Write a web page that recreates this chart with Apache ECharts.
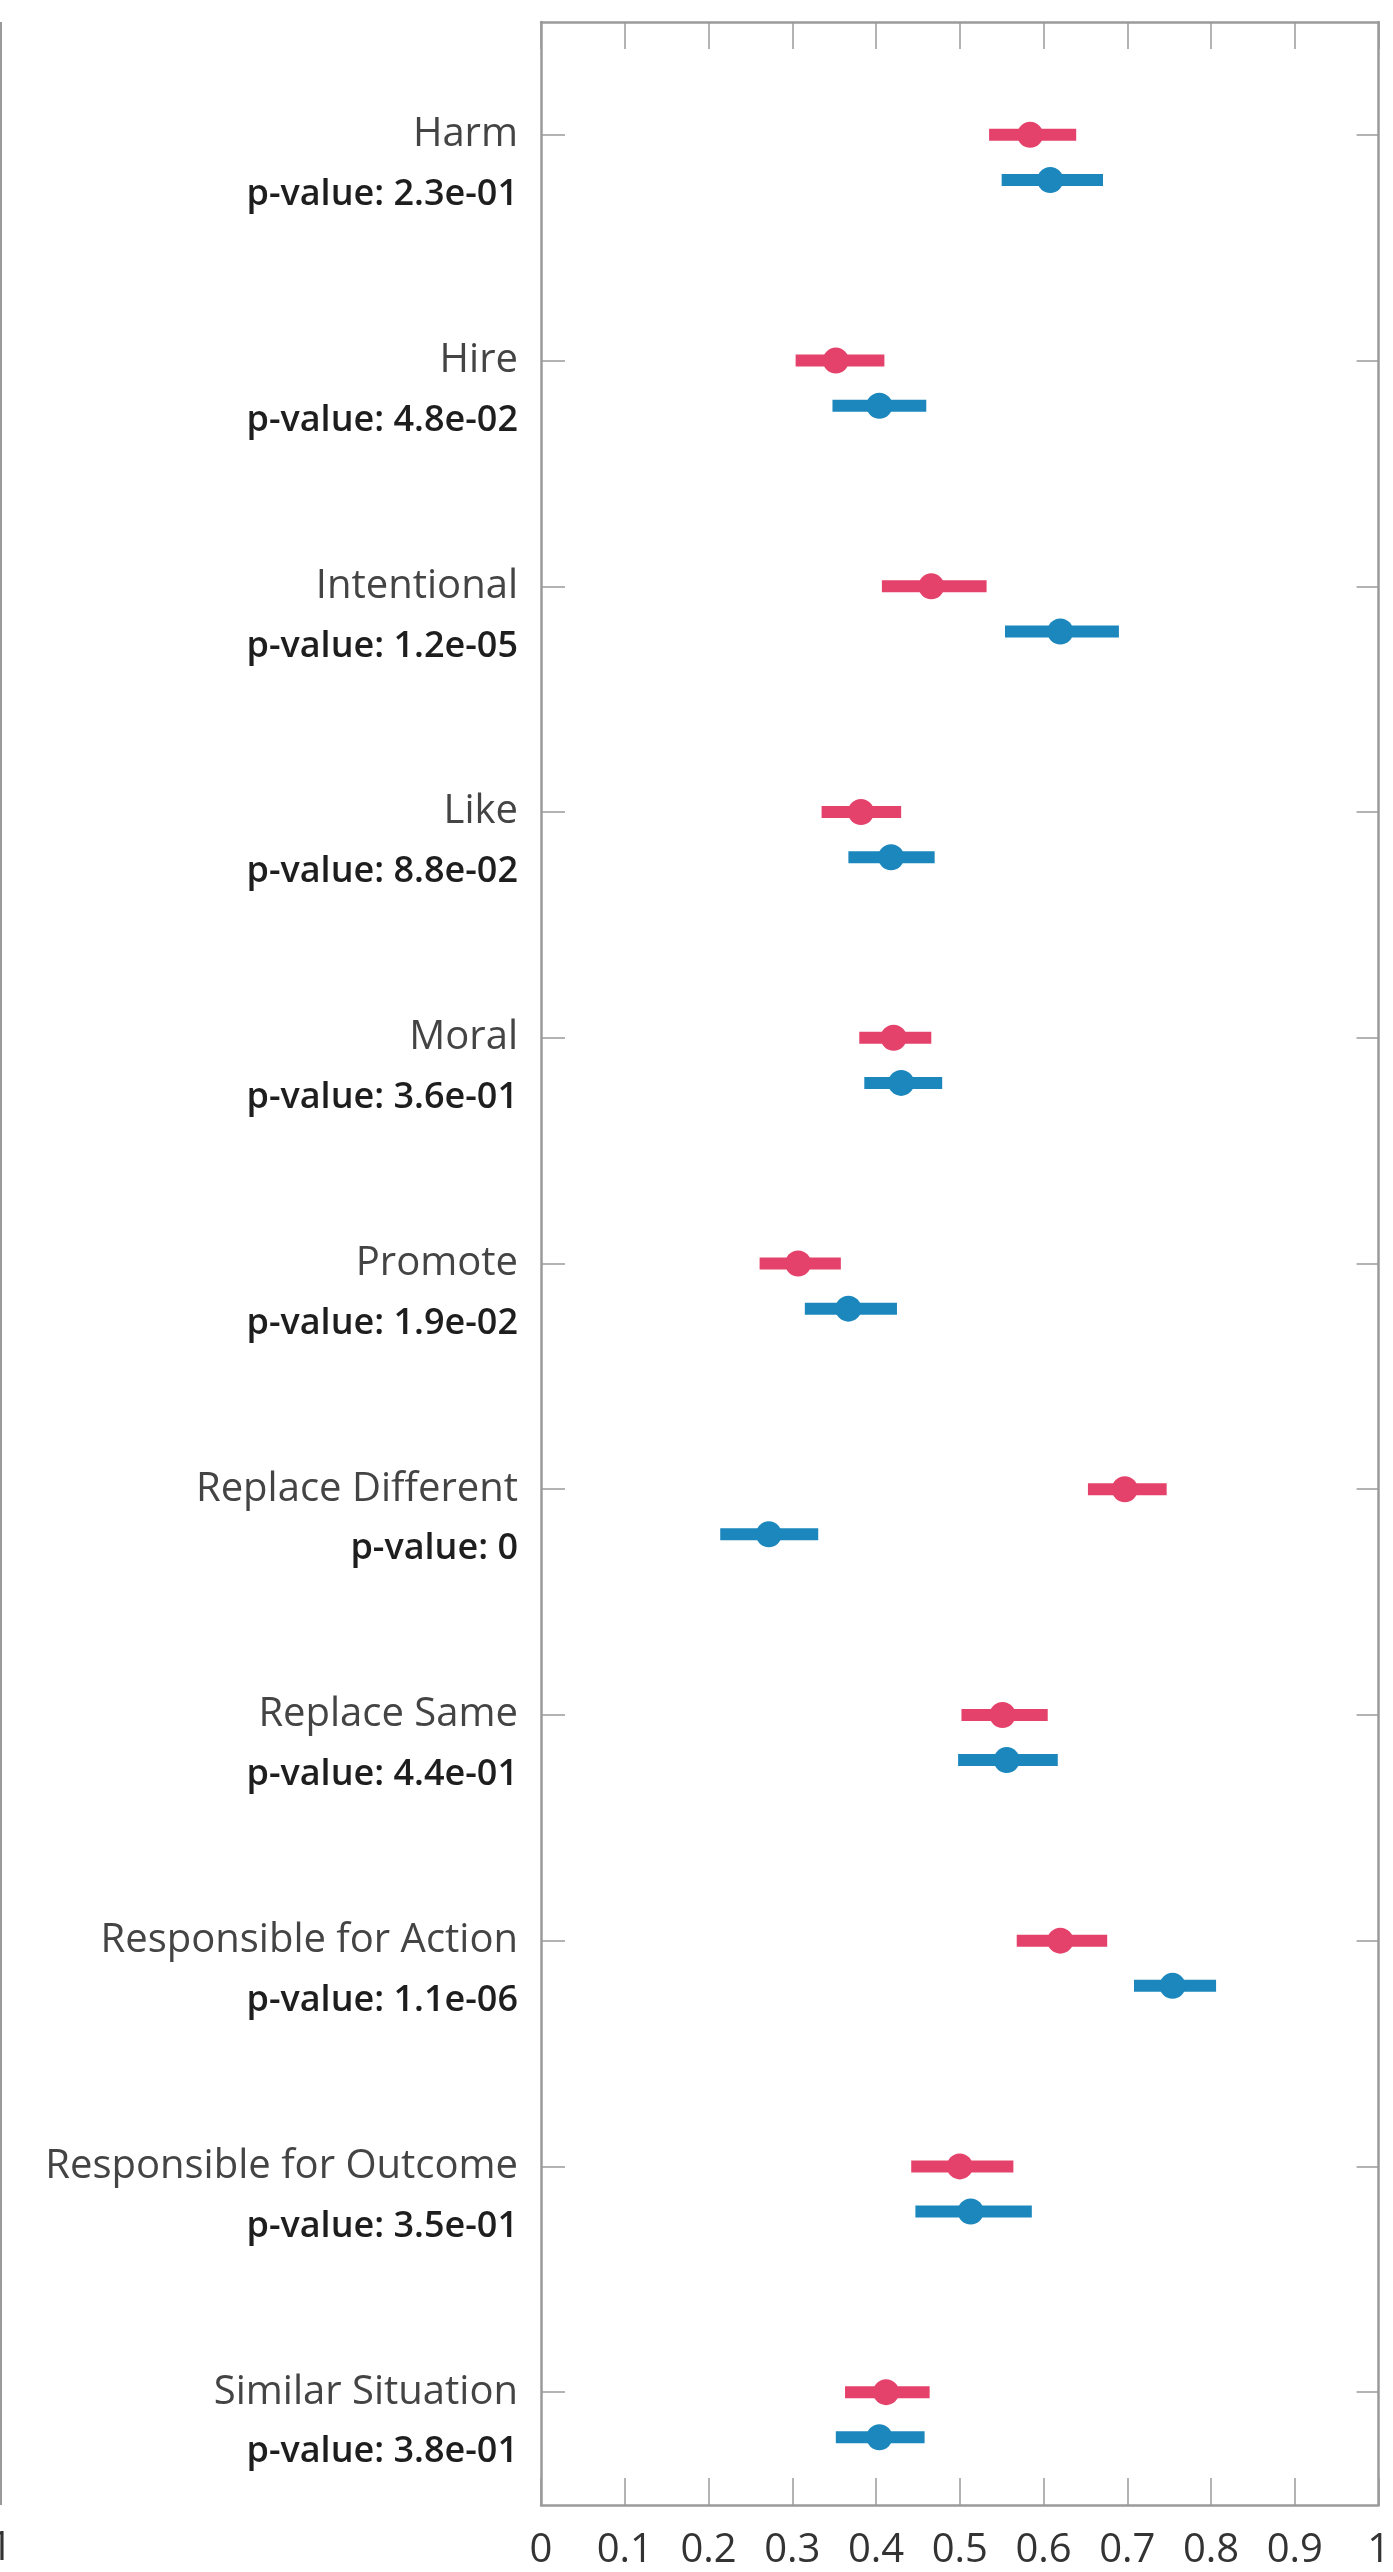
<!DOCTYPE html>
<html>
<head>
<meta charset="utf-8">
<script src="https://cdn.jsdelivr.net/npm/echarts@6/dist/echarts.min.js"></script>
<style>
html,body{margin:0;padding:0;background:#fff;}
#chart{width:1393px;height:2572px;}
</style>
</head>
<body>
<div id="chart"></div>
<script>
const categories = ['Harm','Hire','Intentional','Like','Moral','Promote','Replace Different','Replace Same','Responsible for Action','Responsible for Outcome','Similar Situation'];
const pValues = ['2.3e-01','4.8e-02','1.2e-05','8.8e-02','3.6e-01','1.9e-02','0','4.4e-01','1.1e-06','3.5e-01','3.8e-01'];
const redMean = [0.584,0.352,0.466,0.382,0.421,0.307,0.697,0.551,0.620,0.500,0.412];
const redLow  = [0.535,0.304,0.407,0.335,0.380,0.261,0.653,0.502,0.568,0.442,0.363];
const redHigh = [0.639,0.410,0.532,0.430,0.466,0.358,0.747,0.605,0.676,0.564,0.464];
const blueMean = [0.608,0.404,0.620,0.418,0.430,0.367,0.272,0.556,0.754,0.513,0.404];
const blueLow  = [0.550,0.348,0.554,0.367,0.386,0.315,0.214,0.498,0.708,0.447,0.352];
const blueHigh = [0.671,0.460,0.690,0.470,0.479,0.425,0.331,0.617,0.806,0.586,0.458];
const xTicks = ['0','0.1','0.2','0.3','0.4','0.5','0.6','0.7','0.8','0.9','1'];

const FONT = '"Open Sans", "DejaVu Sans", sans-serif';
const AXIS_COLOR = '#9a9a9a';
const RED = '#e5426b';
const BLUE = '#1b87bd';

function rows(lo, mid, hi) {
  return categories.map((c, i) => [i, lo[i], mid[i], hi[i]]);
}
function renderCI(color, dodge) {
  return function (params, api) {
    const cat = api.value(0);
    const c = api.coord([api.value(2), cat]);
    const pl = api.coord([api.value(1), cat]);
    const ph = api.coord([api.value(3), cat]);
    const band = api.size([0, 1])[1];
    const y = c[1] + band * dodge;
    return {
      type: 'group',
      children: [
        {type: 'line', shape: {x1: pl[0], y1: y, x2: ph[0], y2: y}, style: {stroke: color, lineWidth: 12}},
        {type: 'circle', shape: {cx: c[0], cy: y, r: 13}, style: {fill: color}}
      ]
    };
  };
}

const chart = echarts.init(document.getElementById('chart'), null, {renderer: 'canvas'});
const tickLabel = v => {
  const i = Math.round(v * 10);
  return xTicks[i] !== undefined ? xTicks[i] : '';
};
chart.setOption({
  backgroundColor: '#fff',
  animation: false,
  grid: {left: 541, right: 6, top: 22, bottom: 67, show: false},
  graphic: [
    {type: 'line', shape: {x1: 1, y1: 22, x2: 1, y2: 2505}, style: {stroke: AXIS_COLOR, lineWidth: 2}, silent: true},
    {type: 'text', x: 1, y: 2549, style: {text: '1', fontSize: 40, fontFamily: FONT, fill: '#333', align: 'center', verticalAlign: 'middle'}, silent: true}
  ],
  xAxis: [
    {
      type: 'value', position: 'bottom', min: 0, max: 1, interval: 0.1,
      axisLine: {show: true, onZero: false, lineStyle: {color: AXIS_COLOR, width: 2.5}},
      axisTick: {show: true, inside: true, length: 27, lineStyle: {color: AXIS_COLOR, width: 1.5}},
      splitLine: {show: false},
      axisLabel: {show: true, formatter: tickLabel, margin: 26, fontSize: 40, color: '#333', fontFamily: FONT}
    },
    {
      type: 'value', position: 'top', min: 0, max: 1, interval: 0.1,
      axisLine: {show: true, onZero: false, lineStyle: {color: AXIS_COLOR, width: 2.5}},
      axisTick: {show: true, inside: true, length: 27, lineStyle: {color: AXIS_COLOR, width: 1.5}},
      splitLine: {show: false},
      axisLabel: {show: false}
    }
  ],
  yAxis: [
    {
      type: 'category', data: categories, inverse: true, position: 'left',
      axisLine: {show: true, onZero: false, lineStyle: {color: AXIS_COLOR, width: 2.5}},
      axisTick: {show: true, inside: true, alignWithLabel: true, length: 24, lineStyle: {color: AXIS_COLOR, width: 1.5}},
      splitLine: {show: false},
      axisLabel: {
        show: true, margin: 23, align: 'right',
        formatter: (v, i) => '{s| }\n{n|' + v + '}\n{p|p-value: ' + pValues[i] + '}',
        rich: {
          s: {fontSize: 10, lineHeight: 60, align: 'right'},
          n: {fontSize: 40, lineHeight: 60, color: '#444', fontFamily: FONT, align: 'right'},
          p: {fontSize: 36, lineHeight: 60, color: '#1e1e1e', fontWeight: 600, fontFamily: FONT, align: 'right'}
        }
      }
    },
    {
      type: 'category', data: categories, inverse: true, position: 'right',
      axisLine: {show: true, onZero: false, lineStyle: {color: AXIS_COLOR, width: 2.5}},
      axisTick: {show: true, inside: true, alignWithLabel: true, length: 22, lineStyle: {color: AXIS_COLOR, width: 1.5}},
      splitLine: {show: false},
      axisLabel: {show: false}
    }
  ],
  series: [
    {
      type: 'custom', name: 'red', xAxisIndex: 0, yAxisIndex: 0,
      renderItem: renderCI(RED, 0), encode: {x: [1, 2, 3], y: 0},
      data: rows(redLow, redMean, redHigh)
    },
    {
      type: 'custom', name: 'blue', xAxisIndex: 0, yAxisIndex: 0,
      renderItem: renderCI(BLUE, 0.2), encode: {x: [1, 2, 3], y: 0},
      data: rows(blueLow, blueMean, blueHigh)
    }
  ]
});
</script>
</body>
</html>
